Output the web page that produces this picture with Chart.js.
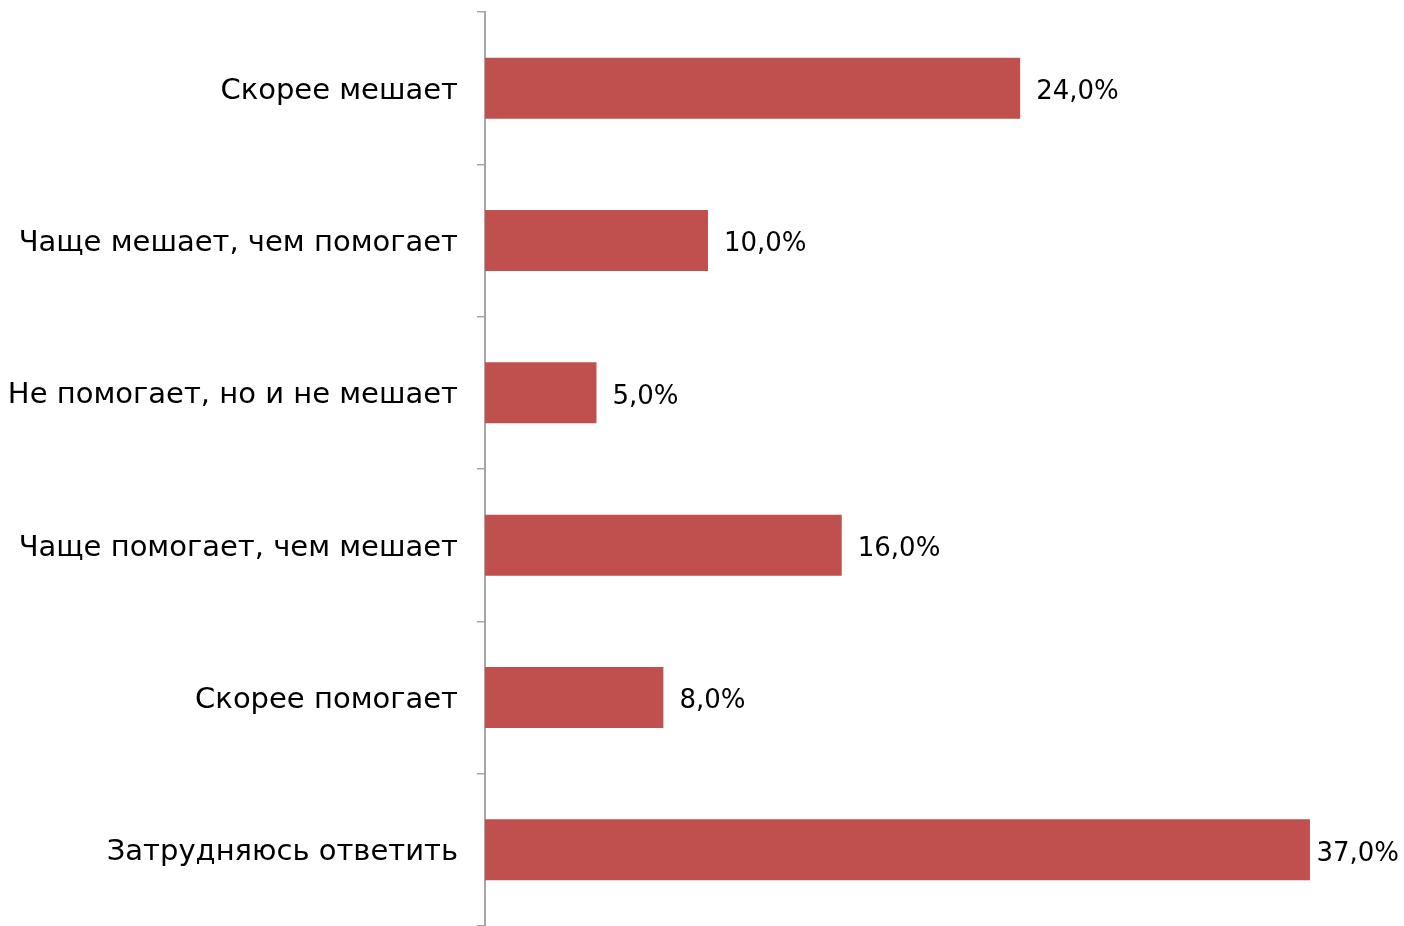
<!DOCTYPE html>
<html><head><meta charset="utf-8">
<script src="https://cdn.jsdelivr.net/npm/chart.js@4"></script>
<style>html,body{margin:0;padding:0;background:#fff;}#wrap{width:1404px;height:926px;}</style>
</head><body><div id="wrap"><canvas id="c" width="1404" height="926"></canvas></div>
<script>
const categories = ["Скорее мешает","Чаще мешает, чем помогает","Не помогает, но и не мешает","Чаще помогает, чем мешает","Скорее помогает","Затрудняюсь ответить"];
const values = [24.0, 10.0, 5.0, 16.0, 8.0, 37.0];
const FONT = "'DejaVu Sans', sans-serif";

const labelPlugin = {
  id: 'vals',
  afterDatasetsDraw(chart) {
    const ctx = chart.ctx;
    const meta = chart.getDatasetMeta(0);
    ctx.save();
    ctx.font = "26px " + FONT;
    ctx.fillStyle = "#000";
    ctx.textBaseline = "middle";
    meta.data.forEach((bar, i) => {
      const t = values[i].toFixed(1).replace('.', ',') + '%';
      const w = ctx.measureText(t).width;
      let x = bar.x + 16;
      if (x + w > chart.width - 5) x = chart.width - 5 - w;
      ctx.fillText(t, x, bar.y + 4);
    });
    ctx.restore();
  }
};

new Chart(document.getElementById('c'), {
  type: 'bar',
  data: { labels: categories, datasets: [{ data: values, backgroundColor: '#C0504D', barPercentage: 0.4, categoryPercentage: 1.0 }] },
  options: {
    indexAxis: 'y', responsive: false, animation: false,
    layout: { padding: { top: 12, right: 94, bottom: 0, left: 0 } },
    plugins: { legend: { display: false }, tooltip: { enabled: false } },
    scales: {
      x: { display: false, min: 0, max: 37 },
      y: {
        afterFit(s) { s.width = 485; s.paddingTop = 0; s.paddingBottom = 0; },
        border: { display: true, color: '#A6A6A6', width: 2 },
        grid: { display: true, drawOnChartArea: false, drawTicks: true, tickLength: 8, color: '#A6A6A6', lineWidth: 1.5, offset: true },
        ticks: { color: '#000', padding: 19, labelOffset: 3, font: { family: FONT, size: 29 } }
      }
    }
  },
  plugins: [labelPlugin]
});
</script></body></html>
